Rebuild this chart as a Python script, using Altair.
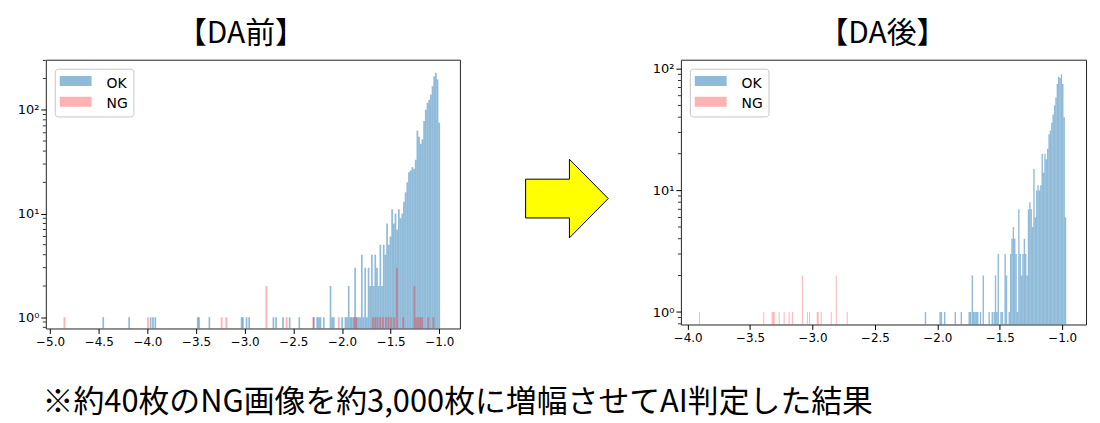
import altair as alt
import pandas as pd

# ---------------- data ----------------
# 【DA前】 OK histogram: isolated bins (centre, count)
before_ok_sparse_x = [-4.454, -4.188, -3.967, -3.943, -3.919, -3.483, -3.469, -3.363,
                      -3.032, -3.019, -2.981, -2.954, -2.705, -2.678, -2.606, -2.538,
                      -2.439, -2.289, -2.255, -2.238, -2.221, -2.187, -2.118, -2.101,
                      -2.084, -1.999, -1.965, -1.948, -1.931, -1.914]
before_ok_sparse_n = [1, 1, 1, 1, 1, 1, 1, 1,
                      1, 1, 1, 1, 1, 1, 1, 1,
                      1, 1, 1, 1, 1, 1, 2, 1,
                      1, 1, 1, 1, 2, 1]
# contiguous bins from -1.900 upward
before_ok_dense_start = -1.900
before_ok_bin = 0.0173
before_ok_dense_n = [1, 1, 3, 1, 1, 1, 4, 1, 3, 1,
                     3, 2, 4, 2, 4, 3, 2, 5, 2, 5,
                     4, 8, 5, 6, 11, 8, 10, 7, 11, 9,
                     10, 13, 16, 20, 25, 26, 28, 27, 33, 63,
                     55, 47, 52, 78, 100, 117, 124, 140, 169, 210,
                     227, 196, 75]
# 【DA前】 NG histogram
before_ng_x = [-4.853, -3.994, -3.237, -3.189, -2.777, -2.569, -2.296, -2.033,
               -1.873, -1.853, -1.683, -1.659, -1.635, -1.608, -1.580, -1.548,
               -1.521, -1.494, -1.463, -1.436, -1.370, -1.256, -1.236, -1.215,
               -1.195, -1.175, -1.113, -1.060]
before_ng_n = [1, 1, 1, 1, 2, 1, 1, 1,
               1, 1, 1, 1, 1, 1, 1, 1,
               1, 1, 1, 3, 1, 2, 1, 1,
               1, 1, 1, 1]
before_ng_bin = 0.019

# 【DA後】 OK histogram
after_ok_sparse_x = [-2.095, -1.978, -1.967, -1.941, -1.856, -1.808, -1.745, -1.734,
                     -1.720, -1.709, -1.698, -1.687, -1.676, -1.654, -1.632, -1.585,
                     -1.560]
after_ok_sparse_n = [1, 1, 1, 1, 1, 1, 1, 1,
                     2, 1, 1, 1, 1, 1, 2, 1,
                     1]
after_ok_dense_start = -1.545
after_ok_bin = 0.011
after_ok_dense_n = [1, 2, 1, 3, 0, 1, 1, 0, 3, 2,
                    0, 1, 3, 4, 5, 4, 3, 1, 7, 3,
                    2, 3, 4, 3, 2, 7, 8, 7, 5, 15,
                    6, 10, 11, 10, 11, 20, 14, 20, 18, 22,
                    29, 31, 36, 42, 50, 58, 75, 86, 84, 90,
                    75, 40, 6]
# 【DA後】 NG histogram
after_ng_x = [-3.905, -3.390, -3.323, -3.315, -3.307, -3.267, -3.227, -3.187,
              -3.161, -3.081, -3.041, -3.023, -2.962, -2.954, -2.930, -2.850,
              -2.810, -2.722]
after_ng_n = [1, 1, 1, 1, 1, 1, 1, 1,
              1, 2, 1, 1, 1, 1, 1, 1,
              2, 1]
after_ng_bin = 0.008

series_names = ["OK", "NG"]
series_colors = ["#1f77b4", "#ff0000"]
series_alpha = [0.5, 0.3]

x_ticks_before = [-5.0, -4.5, -4.0, -3.5, -3.0, -2.5, -2.0, -1.5, -1.0]
x_ticks_after = [-4.0, -3.5, -3.0, -2.5, -2.0, -1.5, -1.0]
y_major = [1, 10, 100]
y_minor = [0.8, 0.9, 2, 3, 4, 5, 6, 7, 8, 9, 20, 30, 40, 50, 60, 70, 80, 90, 200, 300]

title_before = "【DA前】"
title_after = "【DA後】"
note_text = "※約40枚のNG画像を約3,000枚に増幅させてAI判定した結果"

# ---------------- helpers ----------------
def rows(centers, counts, width, name):
    out = []
    for c, n in zip(centers, counts):
        if n > 0:
            out.append({"x0": c - width / 2, "x1": c + width / 2, "n": n, "series": name})
    return out


def dense(start, width, counts):
    return [start + i * width for i in range(len(counts))]


before_df = pd.DataFrame(
    rows(before_ok_sparse_x, before_ok_sparse_n, before_ok_bin, "OK")
    + rows(dense(before_ok_dense_start, before_ok_bin, before_ok_dense_n), before_ok_dense_n, before_ok_bin, "OK")
    + rows(before_ng_x, before_ng_n, before_ng_bin, "NG")
)
after_df = pd.DataFrame(
    rows(after_ok_sparse_x, after_ok_sparse_n, after_ok_bin, "OK")
    + rows(dense(after_ok_dense_start, after_ok_bin, after_ok_dense_n), after_ok_dense_n, after_ok_bin, "OK")
    + rows(after_ng_x, after_ng_n, after_ng_bin, "NG")
)

LEGEND_SYMBOL = "M-1,-0.77H2.2V0.23H-1Z"
ARROW = "M-0.988,-0.464L0.06,-0.464L0.06,-0.94L0.988,0L0.06,0.94L0.06,0.464L-0.988,0.464Z"
TICK_FONT = "DejaVu Sans"


def panel(df, xdom, ydom, xticks, W, H, title, title_dx, extra=None):
    legend = alt.Legend(
        title=None, orient="none", legendX=9, legendY=9,
        symbolType=LEGEND_SYMBOL, symbolSize=400, symbolStrokeWidth=0,
        labelFont=TICK_FONT, labelFontSize=14, labelColor="#000", labelOffset=27,
        rowPadding=4, padding=5, fillColor="rgba(255,255,255,0.8)",
        strokeColor="#c8c8c8", cornerRadius=3,
    )
    xscale = alt.Scale(domain=xdom, nice=False, zero=False)
    yscale = alt.Scale(type="log", domain=ydom, nice=False)
    bars = alt.Chart(df).mark_rect(strokeWidth=0).encode(
        x=alt.X("x0:Q", scale=xscale, axis=alt.Axis(
            values=xticks, labelExpr="replace(format(datum.value, '.1f'), '-', '\u2212')",
            title=None, grid=False, domain=False, tickSize=5, tickColor="#000",
            labelFont=TICK_FONT, labelFontSize=12, labelColor="#000", labelPadding=3,
            labelFlush=False, labelOverlap=False)),
        x2="x1:Q",
        y=alt.Y("n:Q", scale=yscale, axis=alt.Axis(
            values=y_major,
            labelExpr="datum.value == 1 ? '10\u2070' : datum.value == 10 ? '10\u00b9' : '10\u00b2'",
            title=None, grid=False, domain=False, tickSize=5, tickColor="#000",
            labelFont=TICK_FONT, labelFontSize=13, labelColor="#000", labelPadding=2)),
        y2=alt.value(H),
        color=alt.Color("series:N", scale=alt.Scale(domain=series_names, range=series_colors), legend=legend),
        opacity=alt.Opacity("series:N", scale=alt.Scale(domain=series_names, range=series_alpha), legend=legend),
    )
    minor_vals = [v for v in y_minor if ydom[0] <= v <= ydom[1]]
    minor = alt.Chart(pd.DataFrame({"m": minor_vals})).mark_tick(
        orient="horizontal", size=3, thickness=0.8, color="#000", opacity=1
    ).encode(y=alt.Y("m:Q", scale=yscale), x=alt.value(-1.5))
    layers = [bars, minor]
    if extra is not None:
        layers.append(extra)
    return alt.layer(*layers).properties(
        width=W, height=H,
        title=alt.TitleParams(title, font="Noto Sans CJK JP", fontSize=30, fontWeight="normal",
                              color="#000", anchor="middle", dx=title_dx, offset=11),
    )


arrow = alt.Chart(pd.DataFrame({"a": [0]})).mark_point(
    shape=ARROW, size=7056, filled=True, fill="#ffff00", stroke="#000", strokeWidth=1, opacity=1
).encode(x=alt.value(-114.5), y=alt.value(139.5))

left = panel(before_df, [-5.044, -0.788], [0.779, 304], x_ticks_before, 416, 270, title_before, -12)
right = panel(after_df, [-4.054, -0.809], [0.79, 118.6], x_ticks_after, 407, 266, title_after, -1, extra=arrow)

chart = alt.hconcat(left, right, spacing=62).properties(
    title=alt.TitleParams(note_text, orient="bottom", anchor="start", font="Noto Sans CJK JP",
                          fontSize=31, fontWeight="normal", color="#000", offset=40, dx=26),
    padding={"top": 9, "left": 8, "right": 5, "bottom": 2},
).configure_view(stroke="#222", strokeWidth=1).resolve_scale(
    x="independent", y="independent"
).resolve_legend(color="independent", opacity="independent")

chart.save("out.html", embed_options={"renderer": "svg", "actions": False})
